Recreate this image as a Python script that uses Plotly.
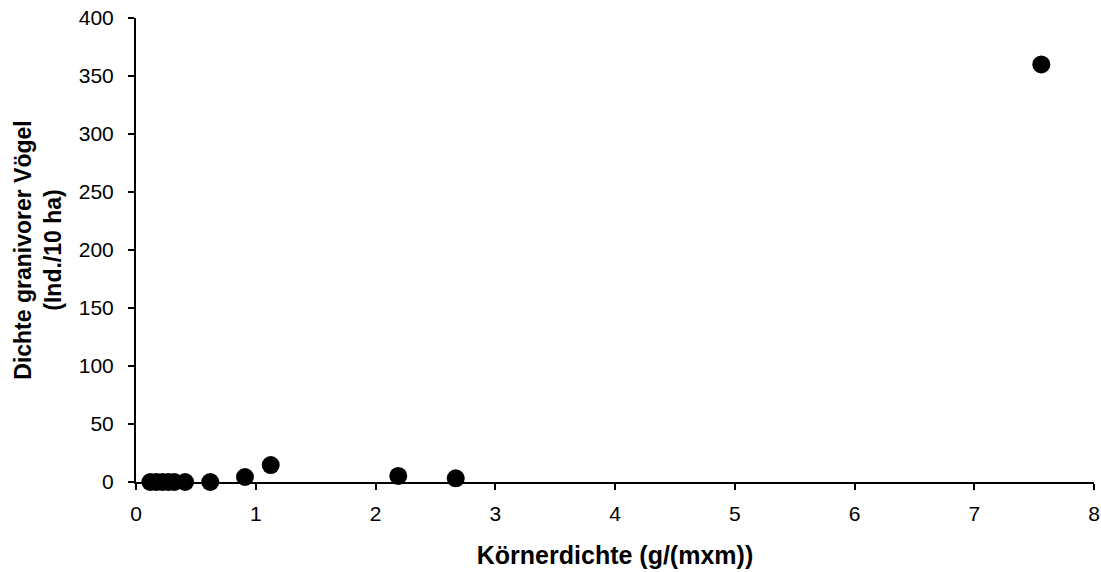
import plotly.graph_objects as go

x_vals = [0.12, 0.17, 0.22, 0.27, 0.32, 0.41, 0.62, 0.91, 1.125, 2.19, 2.67, 7.56]
y_vals = [0, 0, 0, 0, 0, 0, 0, 4.3, 14.6, 5.2, 3.2, 360]

x_title = "Körnerdichte (g/(mxm))"
y_title = "Dichte granivorer Vögel<br>(Ind./10 ha)"

FONT = "Arial, Liberation Sans, sans-serif"

fig = go.Figure()
fig.add_trace(go.Scatter(
    x=x_vals, y=y_vals, mode="markers",
    marker=dict(color="black", size=18, line=dict(width=0)),
    cliponaxis=False, showlegend=False,
))

axis_common = dict(
    showgrid=False, zeroline=False, showline=True, linecolor="black", linewidth=2,
    ticks="outside", ticklen=6, tickwidth=2, tickcolor="black",
    tickfont=dict(family=FONT, size=21, color="black"),
    automargin=False, ticklabeloverflow="allow",
)

fig.update_layout(
    width=1101, height=572,
    margin=dict(l=136, r=7, t=18, b=90),
    paper_bgcolor="white", plot_bgcolor="white",
    xaxis=dict(range=[0, 8], dtick=1, **axis_common, ticklabelstandoff=6,
               title=dict(text="<b>" + x_title + "</b>", standoff=22,
                          font=dict(family=FONT, size=25, color="black"))),
    yaxis=dict(range=[0, 400], dtick=50, **axis_common, ticklabelstandoff=10,
               title=dict(text="<b>" + y_title + "</b>", standoff=11,
                          font=dict(family=FONT, size=23, color="black"))),
)

fig.write_html(
    "out.html",
    config={"displayModeBar": False},
    post_script="document.body.style.margin='0';document.body.style.overflow='hidden';",
)
